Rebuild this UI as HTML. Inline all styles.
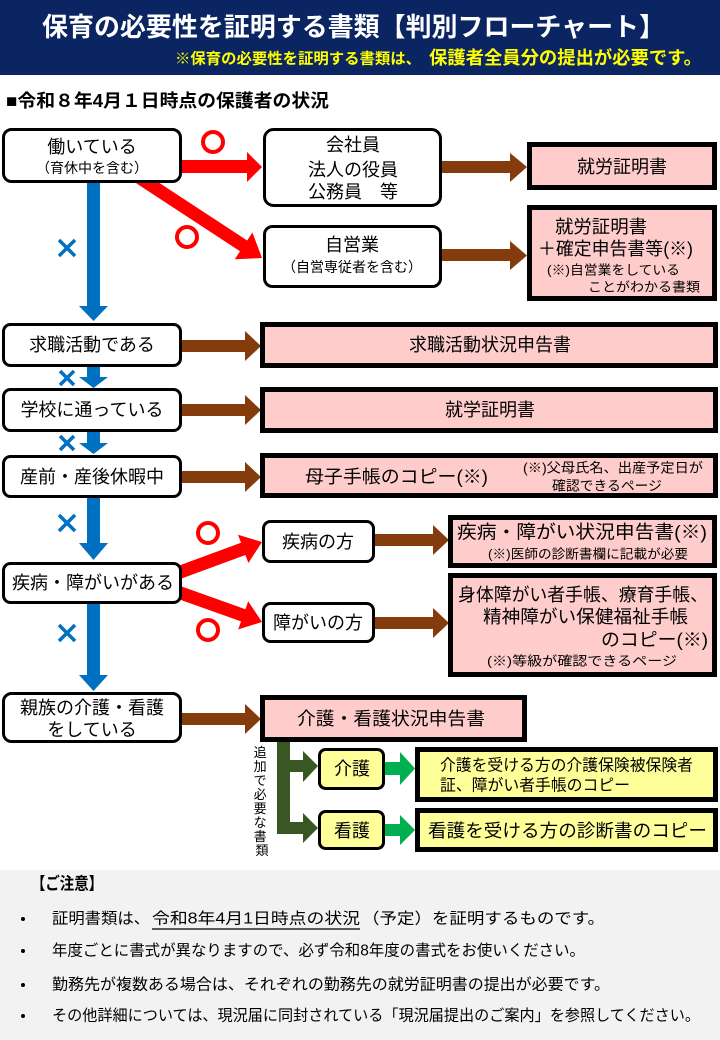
<!DOCTYPE html>
<html lang="ja">
<head>
<meta charset="utf-8">
<style>
  html, body { margin:0; padding:0; background:#ffffff; }
  body { width:720px; height:1040px; overflow:hidden; }
  svg { display:block; }
  text { font-family: "Liberation Sans", "Noto Sans CJK JP", sans-serif; fill:#000; dominant-baseline:central; }
  .c { text-anchor:middle; }
  .b { font-weight:bold; }
</style>
</head>
<body>
<svg width="720" height="1040" viewBox="0 0 720 1040" xmlns="http://www.w3.org/2000/svg">
  <!-- Header -->
  <rect x="0" y="0" width="720" height="75" fill="#0b2462"/>
  <text x="42" y="27" font-size="26" class="b" style="fill:#ffffff" textLength="623" lengthAdjust="spacingAndGlyphs">保育の必要性を証明する書類【判別フローチャート】</text>
  <text x="175" y="59" font-size="15" class="b" style="fill:#ffff00" textLength="246" lengthAdjust="spacingAndGlyphs">※保育の必要性を証明する書類は、</text>
  <text x="429" y="58" font-size="18" class="b" style="fill:#ffff00" textLength="273" lengthAdjust="spacingAndGlyphs">保護者全員分の提出が必要です。</text>

  <!-- Section heading -->
  <text x="6" y="101" font-size="18" class="b" textLength="323" lengthAdjust="spacingAndGlyphs">■令和８年4月１日時点の保護者の状況</text>

  <!-- Blue arrows -->
  <g fill="#0070c0">
    <polygon points="87,180 100,180 100,306 108,306 93.5,321 79,306 87,306"/>
    <polygon points="87,365 100,365 100,377 108,377 93.5,388 79,377 87,377"/>
    <polygon points="87,430 100,430 100,443 108,443 93.5,454 79,443 87,443"/>
    <polygon points="87,496 100,496 100,543 108,543 93.5,560 79,543 87,543"/>
    <polygon points="87,602 100,602 100,675 108,675 93.5,691 79,675 87,675"/>
  </g>
  <!-- Blue crosses -->
  <g stroke="#0070c0" stroke-width="3.5" stroke-linecap="butt">
    <line x1="59" y1="240" x2="75" y2="256"/><line x1="75" y1="240" x2="59" y2="256"/>
    <line x1="60" y1="371" x2="74" y2="385"/><line x1="74" y1="371" x2="60" y2="385"/>
    <line x1="60" y1="436" x2="74" y2="450"/><line x1="74" y1="436" x2="60" y2="450"/>
    <line x1="59" y1="515" x2="75" y2="531"/><line x1="75" y1="515" x2="59" y2="531"/>
    <line x1="59" y1="625" x2="75" y2="641"/><line x1="75" y1="625" x2="59" y2="641"/>
  </g>

  <!-- Red arrows -->
  <g fill="#ff0000">
    <polygon points="178,160 247,160 247,152 262,167 247,182 247,173 178,173"/>
    <polygon points="143.6,172.6 247.2,240.5 252.4,232.5 262,258 234.8,259.3 240.0,251.3 136.4,183.4"/>
    <polygon points="172.8,567.9 241.0,542.8 238.0,534.8 262,542 248.4,563.0 245.4,555.0 177.2,580.1"/>
    <polygon points="177.2,584.9 245.4,609.2 248.2,601.2 262,622 238.2,629.4 241.0,621.4 172.8,597.1"/>
  </g>
  <!-- Red circles -->
  <g fill="none" stroke="#ff0000" stroke-width="4">
    <circle cx="213" cy="142" r="10"/>
    <circle cx="187" cy="237" r="10"/>
    <circle cx="208" cy="533" r="10"/>
    <circle cx="208" cy="630" r="10"/>
  </g>

  <!-- Brown arrows -->
  <g fill="#843c0c">
    <polygon points="440,161 510,161 510,153 527,167 510,182 510,173 440,173"/>
    <polygon points="440,249 510,249 510,241 527,255.5 510,270 510,261 440,261"/>
    <polygon points="180,340 245,340 245,331 261,346 245,361 245,352 180,352"/>
    <polygon points="180,404 245,404 245,395 261,410 245,425 245,416 180,416"/>
    <polygon points="180,471 245,471 245,462 261,477 245,492 245,483 180,483"/>
    <polygon points="373,534 433,534 433,525 449,540 433,555 433,546 373,546"/>
    <polygon points="373,617 433,617 433,608 449,623 433,638 433,629 373,629"/>
    <polygon points="180,713 245,713 245,704 261,719 245,734 245,725 180,725"/>
  </g>

  <!-- Dark green connector -->
  <g fill="#385723">
    <polygon points="277,740 290,740 290,760 303,760 303,751 318,766 303,782 303,772 290,772 290,822 303,822 303,813 318,828 303,843 303,834 277,834"/>
  </g>
  <!-- Green arrows -->
  <g fill="#00b050">
    <polygon points="385,762 400,762 400,752 415,768.5 400,785 400,775 385,775"/>
    <polygon points="385,824 400,824 400,815 415,830 400,845 400,836 385,836"/>
  </g>

  <!-- Vertical label -->
  <text font-size="13" class="c">
    <tspan x="262" y="752">追</tspan>
    <tspan x="262" y="766">加</tspan>
    <tspan x="262" y="780">で</tspan>
    <tspan x="262" y="794">必</tspan>
    <tspan x="262" y="808">要</tspan>
    <tspan x="262" y="822">な</tspan>
    <tspan x="262" y="836">書</tspan>
    <tspan x="262" y="850">類</tspan>
  </text>

  <!-- Rounded white boxes -->
  <g fill="#ffffff" stroke="#000" stroke-width="3">
    <rect x="3.5" y="129.5" width="177" height="52" rx="8"/>
    <rect x="264.5" y="129.5" width="176" height="76" rx="9"/>
    <rect x="264.5" y="226.5" width="176" height="60" rx="8"/>
    <rect x="3.5" y="324.5" width="177" height="41" rx="7"/>
    <rect x="3.5" y="389.5" width="177" height="41" rx="7"/>
    <rect x="3.5" y="456.5" width="177" height="40" rx="7"/>
    <rect x="3.5" y="563.5" width="177" height="39" rx="7"/>
    <rect x="263.5" y="521.5" width="110" height="40" rx="7"/>
    <rect x="263.5" y="603.5" width="110" height="38" rx="7"/>
    <rect x="3.5" y="693.5" width="177" height="48" rx="8"/>
  </g>
  <g fill="#ffff99" stroke="#000" stroke-width="3">
    <rect x="319.5" y="749.5" width="64" height="39" rx="6"/>
    <rect x="319.5" y="811.5" width="64" height="37" rx="6"/>
  </g>

  <!-- Thick-bordered document boxes -->
  <g fill="#ffcccc" stroke="#000" stroke-width="5">
    <rect x="529.5" y="144.5" width="185" height="43"/>
    <rect x="529.5" y="207.5" width="185" height="91"/>
    <rect x="262.5" y="324.5" width="453" height="41"/>
    <rect x="262.5" y="389.5" width="453" height="41"/>
    <rect x="262.5" y="455.5" width="453" height="40"/>
    <rect x="450.5" y="517.5" width="264" height="48"/>
    <rect x="450.5" y="575.5" width="264" height="99"/>
    <rect x="262.5" y="697.5" width="262" height="42"/>
  </g>
  <g fill="#ffff99" stroke="#000" stroke-width="5">
    <rect x="417.5" y="749.5" width="298" height="50"/>
    <rect x="417.5" y="810.5" width="298" height="39"/>
  </g>

  <!-- Box texts -->
  <text x="92" y="147" font-size="18" class="c">働いている</text>
  <text x="92" y="168" font-size="14" class="c">（育休中を含む）</text>

  <text x="353" y="145" font-size="18" class="c">会社員</text>
  <text x="353" y="170" font-size="18" class="c">法人の役員</text>
  <text x="353" y="192" font-size="18" class="c">公務員　等</text>

  <text x="352" y="245" font-size="18" class="c">自営業</text>
  <text x="352" y="267" font-size="14" class="c">（自営専従者を含む）</text>

  <text x="622" y="167" font-size="18" class="c">就労証明書</text>

  <text x="555" y="227" font-size="18" textLength="92" lengthAdjust="spacingAndGlyphs">就労証明書</text>
  <text x="538" y="249" font-size="18" textLength="155" lengthAdjust="spacingAndGlyphs">＋確定申告書等(※)</text>
  <text x="547" y="270" font-size="13" textLength="133" lengthAdjust="spacingAndGlyphs">(※)自営業をしている</text>
  <text x="588" y="287" font-size="13" textLength="112" lengthAdjust="spacingAndGlyphs">ことがわかる書類</text>

  <text x="92" y="345" font-size="18" class="c">求職活動である</text>
  <text x="490" y="345" font-size="18" class="c">求職活動状況申告書</text>

  <text x="92" y="410" font-size="18" class="c">学校に通っている</text>
  <text x="490" y="410" font-size="18" class="c">就学証明書</text>

  <text x="92" y="477" font-size="18" class="c">産前・産後休暇中</text>
  <text x="305" y="477" font-size="18" textLength="183" lengthAdjust="spacingAndGlyphs">母子手帳のコピー(※)</text>
  <text x="523" y="468" font-size="13.5" textLength="180" lengthAdjust="spacingAndGlyphs">(※)父母氏名、出産予定日が</text>
  <text x="607" y="486" font-size="13.5" class="c" textLength="110" lengthAdjust="spacingAndGlyphs">確認できるページ</text>

  <text x="93" y="583" font-size="18" class="c">疾病・障がいがある</text>
  <text x="318" y="542" font-size="18" class="c">疾病の方</text>
  <text x="318" y="623" font-size="18" class="c">障がいの方</text>

  <text x="457" y="532" font-size="18.5" textLength="250" lengthAdjust="spacingAndGlyphs">疾病・障がい状況申告書(※)</text>
  <text x="488" y="554" font-size="13" textLength="200" lengthAdjust="spacingAndGlyphs">(※)医師の診断書欄に記載が必要</text>

  <text x="458" y="595" font-size="18" textLength="250" lengthAdjust="spacingAndGlyphs">身体障がい者手帳、療育手帳、</text>
  <text x="483" y="617" font-size="18" textLength="205" lengthAdjust="spacingAndGlyphs">精神障がい保健福祉手帳</text>
  <text x="601" y="640" font-size="18" textLength="107" lengthAdjust="spacingAndGlyphs">のコピー(※)</text>
  <text x="487" y="661" font-size="13" textLength="190" lengthAdjust="spacingAndGlyphs">(※)等級が確認できるページ</text>

  <text x="92" y="708" font-size="18" class="c">親族の介護・看護</text>
  <text x="92" y="730" font-size="18" class="c">をしている</text>
  <text x="391" y="719" font-size="18" class="c" textLength="188" lengthAdjust="spacingAndGlyphs">介護・看護状況申告書</text>

  <text x="352" y="769" font-size="18" class="c">介護</text>
  <text x="352" y="831" font-size="18" class="c">看護</text>

  <text x="440" y="766" font-size="16" textLength="253" lengthAdjust="spacingAndGlyphs">介護を受ける方の介護保険被保険者</text>
  <text x="440" y="786" font-size="16" textLength="190" lengthAdjust="spacingAndGlyphs">証、障がい者手帳のコピー</text>
  <text x="428" y="831" font-size="18" textLength="279" lengthAdjust="spacingAndGlyphs">看護を受ける方の診断書のコピー</text>

  <!-- Footer -->
  <rect x="0" y="870" width="720" height="170" fill="#f2f2f2"/>
  <text x="31" y="884" font-size="17" class="b" textLength="72" lengthAdjust="spacingAndGlyphs">【ご注意】</text>
  <g fill="#000">
    <circle cx="23" cy="919" r="2"/>
    <circle cx="23" cy="951" r="2"/>
    <circle cx="23" cy="985" r="2"/>
    <circle cx="23" cy="1016" r="2"/>
  </g>
  <text x="52" y="919" font-size="15.5" textLength="98" lengthAdjust="spacingAndGlyphs">証明書類は、</text>
  <text x="152" y="919" font-size="15.5" textLength="208" lengthAdjust="spacingAndGlyphs">令和8年4月1日時点の状況</text>
  <line x1="152" y1="929" x2="360" y2="929" stroke="#000" stroke-width="1.2"/>
  <text x="362" y="919" font-size="15.5" textLength="243" lengthAdjust="spacingAndGlyphs">（予定）を証明するものです。</text>
  <text x="52" y="951" font-size="15.5" textLength="533" lengthAdjust="spacingAndGlyphs">年度ごとに書式が異なりますので、必ず令和8年度の書式をお使いください。</text>
  <text x="52" y="985" font-size="15.5" textLength="558" lengthAdjust="spacingAndGlyphs">勤務先が複数ある場合は、それぞれの勤務先の就労証明書の提出が必要です。</text>
  <text x="52" y="1016" font-size="15.5" textLength="648" lengthAdjust="spacingAndGlyphs">その他詳細については、現況届に同封されている「現況届提出のご案内」を参照してください。</text>
</svg>
</body>
</html>
